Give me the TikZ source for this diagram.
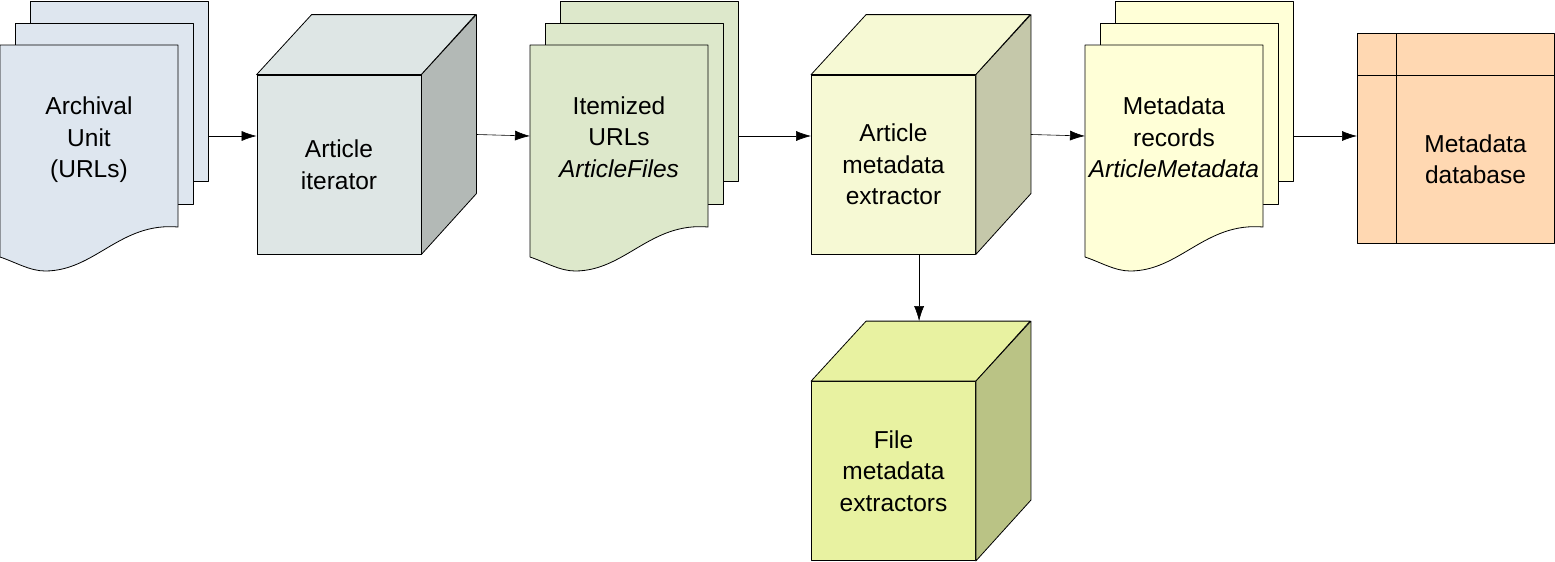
\documentclass[tikz,border=0pt]{standalone}
\usepackage{fontspec}
\setmainfont{Liberation Sans}
\usetikzlibrary{arrows.meta}
\definecolor{docA}{HTML}{DEE6EF}
\definecolor{docB}{HTML}{DDE8CB}
\definecolor{docC}{HTML}{FFFFD7}
\definecolor{cubeA}{HTML}{DEE6E5}
\definecolor{cubeAs}{HTML}{B3B9B6}
\definecolor{cubeB}{HTML}{F6F9D4}
\definecolor{cubeBs}{HTML}{C5C8AA}
\definecolor{cubeC}{HTML}{E8F2A1}
\definecolor{cubeCs}{HTML}{BAC385}
\definecolor{dbcol}{HTML}{FFD8B2}
\begin{document}
\begin{tikzpicture}[x=1pt,y=-1pt,line join=round,line width=.8pt,
  font=\fontsize{24.5}{31.5}\selectfont,
  front/.style={draw,inner sep=0pt,minimum width=164pt,minimum height=179pt,align=center},
  lbl/.style={align=center},
  arr/.style={-{Latex[length=15pt,width=10pt]},line width=.6pt}]
\useasboundingbox (0,0) rectangle (1555,562);
% document stacks
\foreach \dx/\col/\nm in {0/docA/au,530/docB/urls,1085/docC/recs}{
  \begin{scope}[xshift=\dx]
    \draw[fill=\col] (30,1) rectangle (208,181);
    \draw[fill=\col] (15,23) rectangle (193,204);
    \draw[fill=\col] (0,45) -- (178,45) -- (178,227) .. controls (120,222) and (95,271) .. (45,271)
      .. controls (30,271) and (15,262) .. (0,257) -- cycle;
    \coordinate (\nm-in) at (0,136);
    \coordinate (\nm-out) at (208,136);
  \end{scope}
}
\node[lbl] (au) at (89,140) {Archival\\Unit\\(URLs)};
\node[lbl] (urls) at (619,137) {Itemized\\URLs\\\textit{ArticleFiles}};
\node[lbl] (recs) at (1174,137.5) {Metadata\\records\\\textit{ArticleMetadata}};
% cubes
\node[front,fill=cubeA] (iter) at (339,164.5) {Article\\iterator};
\node[front,fill=cubeB] (artx) at (893.5,164.5) {Article\\metadata\\extractor};
\node[front,fill=cubeC] (filex) at (893.5,471) {File\\metadata\\extractors};
\foreach \nm/\cf/\cs in {iter/cubeA/cubeAs,artx/cubeB/cubeBs,filex/cubeC/cubeCs}{
  \draw[fill=\cf] (\nm.north west) -- ++(55,-60) -- ++(164,0) -- (\nm.north east) -- cycle;
  \draw[fill=\cs] (\nm.north east) -- ++(55,-60) -- ++(0,179) -- (\nm.south east) -- cycle;
  \coordinate (\nm-out) at ([shift={(55,-30)}]\nm.east);
  \coordinate (\nm-top) at ([shift={(108,-60)}]\nm.north west);
}
% database
\node[draw,fill=dbcol,inner sep=0pt,minimum width=197pt,minimum height=210pt,anchor=north west] (mdb) at (1357,33) {};
\draw ([xshift=39pt]mdb.north west) -- ([xshift=39pt]mdb.south west);
\draw ([yshift=-42pt]mdb.north west) -- ([yshift=-42pt]mdb.north east);
\node[lbl] (mdbtxt) at (1475.5,159) {Metadata\\database};
% flow
\draw[arr] (au-out) -- (iter.west |- au-out);
\draw[arr] (iter-out) -- (urls-in);
\draw[arr] (urls-out) -- (artx.west |- urls-out);
\draw[arr] (artx-out) -- (recs-in);
\draw[arr] (recs-out) -- (mdb.west |- recs-out);
\draw[arr] (artx.south -| filex-top) -- (filex-top);
\end{tikzpicture}
\end{document}
